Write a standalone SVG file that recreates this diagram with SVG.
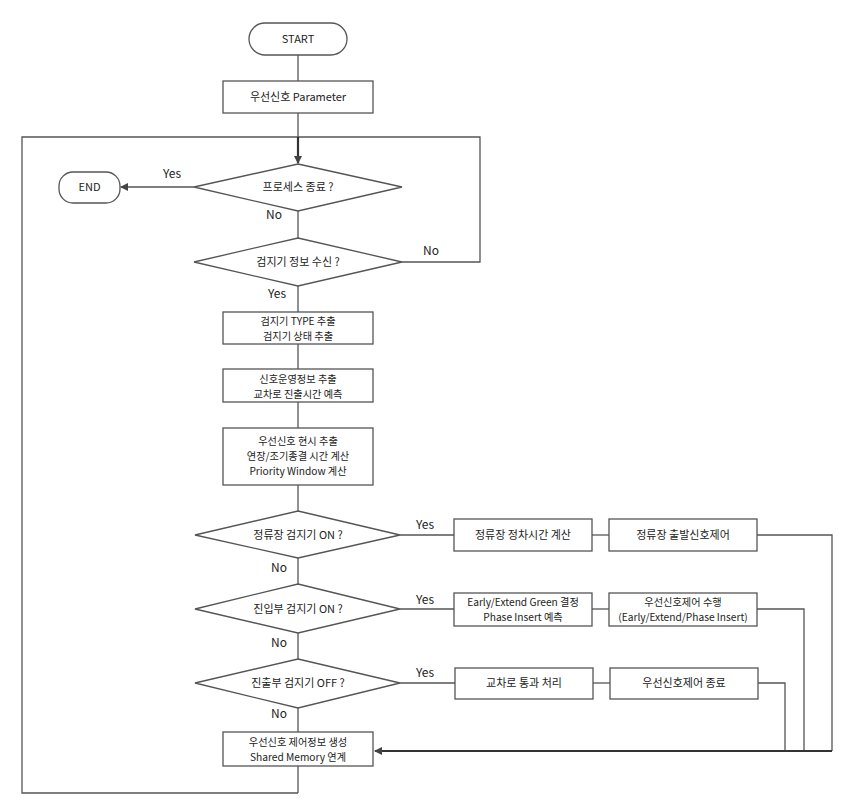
<svg xmlns="http://www.w3.org/2000/svg" width="847" height="806" viewBox="0 0 847 806">
<style>
.n{fill:#fff;stroke:#555;stroke-width:1.3}
.c{fill:none;stroke:#555;stroke-width:1.3}
.b{fill:none;stroke:#333;stroke-width:2.2}
text{font-family:"Noto Sans CJK KR","Open Sans",sans-serif;font-size:11px;fill:#222;text-anchor:middle}
.m{font-size:10.2px}
.l{font-size:12px}
</style>
<defs>
<marker id="a" markerWidth="8" markerHeight="8" refX="7" refY="4" orient="auto" markerUnits="userSpaceOnUse"><path d="M0,0 L8,4 L0,8 Z" fill="#444"/></marker>
</defs>
<rect width="847" height="806" fill="#fff"/>
<g id="connectors">
<line class="c" x1="298" y1="55" x2="298" y2="81"/>
<line class="c" x1="298" y1="113" x2="298" y2="137"/>
<polyline class="c" points="298,793 22,793 22,137 480,137 480,262 402,262"/>
<line class="b" x1="298" y1="137" x2="298" y2="163" marker-end="url(#a)"/>
<line class="c" x1="194" y1="187" x2="121" y2="187" marker-end="url(#a)"/>
<line class="c" x1="298" y1="211" x2="298" y2="238"/>
<line class="c" x1="298" y1="286" x2="298" y2="312"/>
<line class="c" x1="298" y1="344" x2="298" y2="369"/>
<line class="c" x1="298" y1="402" x2="298" y2="428"/>
<line class="c" x1="298" y1="485" x2="298" y2="511"/>
<line class="c" x1="298" y1="558" x2="298" y2="584"/>
<line class="c" x1="298" y1="633" x2="298" y2="659"/>
<line class="c" x1="298" y1="708" x2="298" y2="732"/>
<line class="c" x1="298" y1="766" x2="298" y2="793"/>
<line class="c" x1="400" y1="535" x2="454" y2="535"/>
<line class="c" x1="592" y1="535" x2="609" y2="535"/>
<line class="c" x1="400" y1="609" x2="454" y2="609"/>
<line class="c" x1="592" y1="609" x2="609" y2="609"/>
<line class="c" x1="400" y1="683" x2="455" y2="683"/>
<line class="c" x1="593" y1="683" x2="610" y2="683"/>
<polyline class="c" points="757,535 832,535 832,751"/>
<polyline class="c" points="757,609 804,609 804,751"/>
<polyline class="c" points="758,683 785,683 785,751"/>
<line class="b" x1="832" y1="751" x2="375" y2="751" marker-end="url(#a)"/>
<text class="l" x="172" y="178">Yes</text>
<text class="l" x="274" y="219">No</text>
<text class="l" x="431" y="255">No</text>
<text class="l" x="277" y="298">Yes</text>
<text class="l" x="425" y="529">Yes</text>
<text class="l" x="279" y="572">No</text>
<text class="l" x="425" y="604">Yes</text>
<text class="l" x="279" y="647">No</text>
<text class="l" x="425" y="677">Yes</text>
<text class="l" x="279" y="718">No</text>
</g>
<g id="start"><rect class="n" x="249" y="23" width="98" height="32" rx="16"/><text x="298" y="43">START</text></g>
<g id="param"><rect class="n" x="223" y="81" width="150" height="32"/><text x="298" y="101">우선신호 Parameter</text></g>
<g id="end"><rect class="n" x="59" y="172" width="61" height="31" rx="14"/><text x="89.5" y="191">END</text></g>
<g id="d1"><polygon class="n" points="298,164 402,187 298,211 194,187"/><text x="298" y="191">프로세스 종료 ?</text></g>
<g id="d2"><polygon class="n" points="298,238 402,262 298,286 194,262"/><text x="298" y="266">검지기 정보 수신 ?</text></g>
<g id="b3"><rect class="n" x="223" y="312" width="150" height="32"/><text class="m" x="298" y="325">검지기 TYPE 추출</text><text class="m" x="298" y="340">검지기 상태 추출</text></g>
<g id="b4"><rect class="n" x="223" y="369" width="150" height="33"/><text class="m" x="298" y="382.5">신호운영정보 추출</text><text class="m" x="298" y="397.5">교차로 진출시간 예측</text></g>
<g id="b5"><rect class="n" x="223" y="428" width="150" height="57"/><text class="m" x="298" y="445">우선신호 현시 추출</text><text class="m" x="298" y="460">연장/조기종결 시간 계산</text><text class="m" x="298" y="475">Priority Window 계산</text></g>
<g id="d3"><polygon class="n" points="298,511 400,535 298,558 195,535"/><text x="298" y="539">정류장 검지기 ON ?</text></g>
<g id="d4"><polygon class="n" points="298,584 400,609 298,633 195,609"/><text x="298" y="613">진입부 검지기 ON ?</text></g>
<g id="d5"><polygon class="n" points="298,659 400,683 298,708 195,683"/><text x="298" y="687">진출부 검지기 OFF ?</text></g>
<g id="r1a"><rect class="n" x="454" y="519" width="138" height="32"/><text x="523" y="539">정류장 정차시간 계산</text></g>
<g id="r1b"><rect class="n" x="609" y="519" width="148" height="32"/><text x="683" y="539">정류장 출발신호제어</text></g>
<g id="r2a"><rect class="n" x="454" y="593" width="138" height="33"/><text class="m" x="523" y="606">Early/Extend Green 결정</text><text class="m" x="523" y="621">Phase Insert 예측</text></g>
<g id="r2b"><rect class="n" x="609" y="593" width="148" height="33"/><text class="m" x="683" y="606">우선신호제어 수행</text><text class="m" x="683" y="621">(Early/Extend/Phase Insert)</text></g>
<g id="r3a"><rect class="n" x="455" y="668" width="138" height="31"/><text x="524" y="687">교차로 통과 처리</text></g>
<g id="r3b"><rect class="n" x="610" y="668" width="148" height="31"/><text x="684" y="687">우선신호제어 종료</text></g>
<g id="final"><rect class="n" x="223" y="732" width="150" height="34"/><text class="m" x="298" y="746">우선신호 제어정보 생성</text><text class="m" x="298" y="761">Shared Memory 연계</text></g>
</svg>
